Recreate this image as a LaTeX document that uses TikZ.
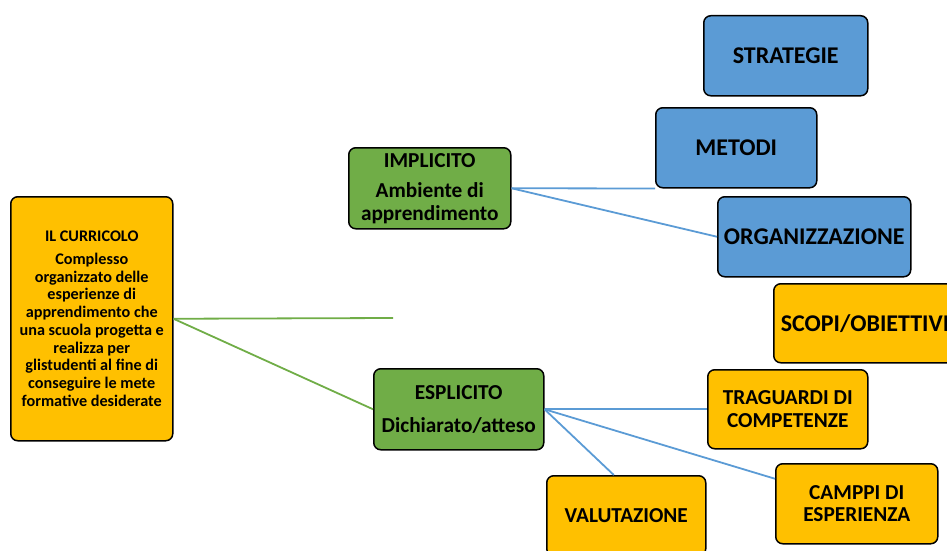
\documentclass[tikz,border=0pt]{standalone}
\usepackage{fontspec}
\setmainfont{Carlito}
\usepackage{xcolor}
\definecolor{boxorange}{HTML}{FFC000}
\definecolor{boxgreen}{HTML}{70AD47}
\definecolor{boxblue}{HTML}{5B9BD5}
\begin{document}
\begin{tikzpicture}[x=1pt, y=-1pt,
	box/.style={draw=black, line width=1.5pt, rounded corners=7pt, anchor=north west, align=center, inner sep=0pt},
	orangebox/.style={box, fill=boxorange},
	greenbox/.style={box, fill=boxgreen},
	bluebox/.style={box, fill=boxblue},
	bigtext/.style={font=\fontsize{24}{27}\selectfont\bfseries},
	midtext/.style={font=\fontsize{21.3}{22.5}\selectfont\bfseries},
	smalltext/.style={font=\fontsize{16.2}{17.7}\selectfont\bfseries},
	greenlink/.style={draw=boxgreen, line width=1.8pt},
	bluelink/.style={draw=boxblue, line width=1.8pt}]
	\useasboundingbox (0,0) rectangle (947,551);
	% left box
	\node[orangebox, smalltext, minimum width=162, minimum height=244] (curricolo) at (10,196)
		{IL CURRICOLO\\[5pt] Complesso\\ organizzato delle\\ esperienze di\\ apprendimento che\\ una scuola progetta e\\ realizza per\\ glistudenti al fine di\\ conseguire le mete\\ formative desiderate};
	% green boxes
	\node[greenbox, midtext, minimum width=162, minimum height=81] (implicito) at (348,147)
		{IMPLICITO\\[8pt] Ambiente di\\ apprendimento};
	\node[greenbox, midtext, minimum width=170, minimum height=81] (esplicito) at (373,368)
		{ESPLICITO\\[10pt] Dichiarato/atteso};
	% blue boxes
	\node[bluebox, bigtext, minimum width=164, minimum height=80] (strategie) at (703,15) {STRATEGIE};
	\node[bluebox, bigtext, minimum width=161, minimum height=80] (metodi) at (655,107) {METODI};
	\node[bluebox, bigtext, minimum width=193, minimum height=80] (organizzazione) at (717,196) {ORGANIZZAZIONE};
	% orange boxes
	\node[orangebox, bigtext, minimum width=200, minimum height=79, text width=186, inner xsep=7pt, align=left] (scopi) at (773,283) {SCOPI/OBIETTIVI};
	\node[orangebox, midtext, minimum width=160, minimum height=79] (traguardi) at (707,369) {TRAGUARDI DI\\ COMPETENZE};
	\node[orangebox, midtext, minimum width=162, minimum height=80] (campi) at (775,463) {CAMPPI DI\\ ESPERIENZA};
	\node[orangebox, midtext, minimum width=159, minimum height=80] (valutazione) at (546,475) {VALUTAZIONE};
	% connectors
	\coordinate (freeend) at (393,318);
	\draw[greenlink] (curricolo.east) -- (freeend);
	\draw[greenlink] (curricolo.east) -- (esplicito.west);
	\draw[bluelink] (implicito.east) -- (metodi.south west);
	\draw[bluelink] (implicito.east) -- (organizzazione.west);
	\draw[bluelink] (esplicito.east) -- (traguardi.west);
	\draw[bluelink] (esplicito.east) -- (valutazione.107);
	\draw[bluelink] (esplicito.east) -- (campi.163);
\end{tikzpicture}
\end{document}
